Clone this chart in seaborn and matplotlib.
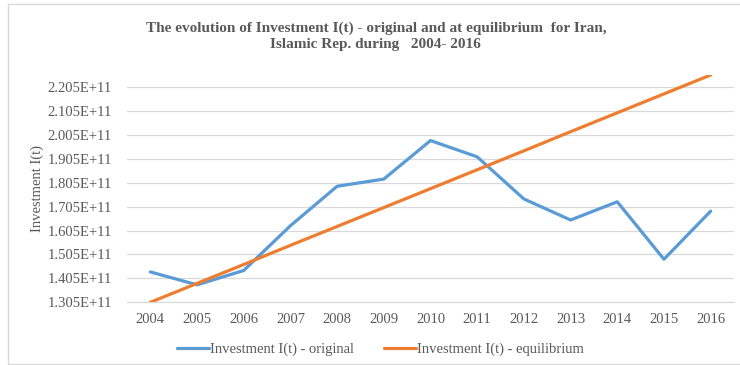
import pandas as pd
import seaborn as sns
import matplotlib.pyplot as plt
from matplotlib.patches import Rectangle
from matplotlib.ticker import FuncFormatter

# Chart values
years = [2004, 2005, 2006, 2007, 2008, 2009, 2010, 2011, 2012, 2013, 2014, 2015, 2016]
original = [1.432e11, 1.378e11, 1.438e11, 1.625e11, 1.790e11, 1.820e11, 1.981e11,
            1.913e11, 1.737e11, 1.649e11, 1.725e11, 1.485e11, 1.686e11]
equilibrium = [1.305e11, 1.384e11, 1.463e11, 1.543e11, 1.622e11, 1.701e11, 1.780e11,
               1.859e11, 1.938e11, 2.018e11, 2.097e11, 2.176e11, 2.255e11]
series_names = ["Investment I(t) - original", "Investment I(t) - equilibrium"]
y_ticks = [1.305e11, 1.405e11, 1.505e11, 1.605e11, 1.705e11, 1.805e11,
           1.905e11, 2.005e11, 2.105e11, 2.205e11]
title = ("The evolution of Investment I(t) - original and at equilibrium  for Iran,\n"
         "Islamic Rep. during   2004- 2016")

df = pd.DataFrame({
    "year": years * 2,
    "value": original + equilibrium,
    "series": [series_names[0]] * len(years) + [series_names[1]] * len(years),
})

sns.set_style("white")
plt.rcParams['font.family'] = ['Liberation Serif', 'DejaVu Serif']
text_grey = "#595959"
colors = ["#5B9BD5", "#ED7D31"]

fig = plt.figure(figsize=(7.4, 3.65), dpi=100)
ax = fig.add_axes([127 / 740, 1 - 302.3 / 365, (734 - 127) / 740, (302.3 - 75) / 365])

sns.lineplot(data=df, x="year", y="value", hue="series",
             palette=colors, linewidth=2.3, ax=ax, legend=False)

ax.set_xlim(2003.5, 2016.5)
ax.set_ylim(1.305e11, 2.255e11)
ax.set_xticks(years)
ax.set_xticklabels([str(y) for y in years])
ax.set_yticks(y_ticks)
ax.yaxis.set_major_formatter(FuncFormatter(lambda v, p: f"{v:.3E}"))
ax.tick_params(axis="both", length=0, labelsize=10.5, colors=text_grey)
ax.tick_params(axis="y", pad=11)
ax.tick_params(axis="x", pad=8)
ax.grid(axis="y", color="#D9D9D9", linewidth=0.9)
ax.set_axisbelow(True)
for side in ["top", "right", "left"]:
    ax.spines[side].set_visible(False)
ax.spines["bottom"].set_color("#D9D9D9")
ax.set_xlabel("")
ax.set_ylabel("Investment I(t)", fontsize=10.5, color=text_grey, labelpad=2)

fig.text(0.508, 0.94, title, ha="center", va="top", multialignment="center",
         fontsize=11, fontweight="bold", color=text_grey, linespacing=1.3)

handles = [plt.Line2D([], [], color=c, lw=2.3) for c in colors]
fig.legend(handles, series_names, loc="center", bbox_to_anchor=(0.514, 0.043), ncol=2,
           frameon=False, fontsize=10.5, handlelength=2.2, handletextpad=0.1,
           columnspacing=2.0, labelcolor=text_grey)

fig.patches.append(Rectangle((8 / 740, 1 / 365), 1.0, 360 / 365, transform=fig.transFigure,
                             fill=False, edgecolor="#D9D9D9", linewidth=1.0))

fig.savefig("out.png", dpi=100)
